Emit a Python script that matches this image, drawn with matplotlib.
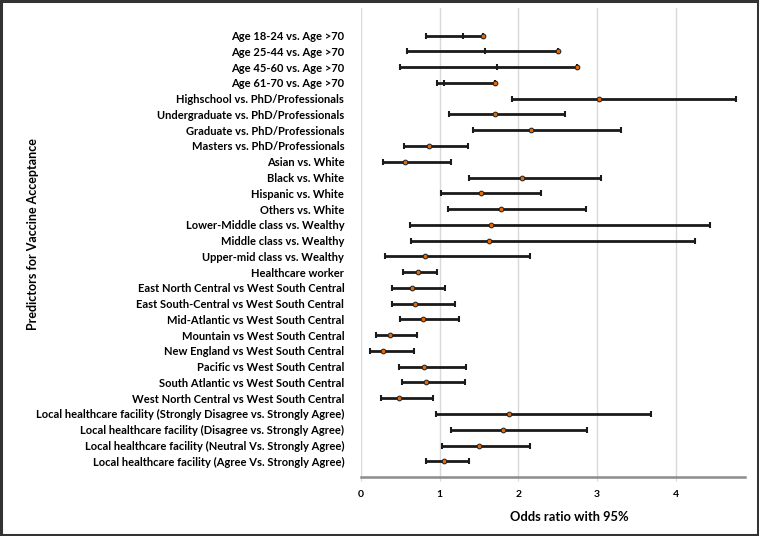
import matplotlib.pyplot as plt
from matplotlib.patches import Rectangle

labels = [
    "Age 18-24 vs. Age >70",
    "Age 25-44 vs. Age >70",
    "Age 45-60 vs. Age >70",
    "Age 61-70 vs. Age >70",
    "Highschool vs. PhD/Professionals",
    "Undergraduate vs. PhD/Professionals",
    "Graduate vs. PhD/Professionals",
    "Masters vs. PhD/Professionals",
    "Asian vs. White",
    "Black vs. White",
    "Hispanic vs. White",
    "Others vs. White",
    "Lower-Middle class vs. Wealthy",
    "Middle class vs. Wealthy",
    "Upper-mid class vs. Wealthy",
    "Healthcare worker",
    "East North Central vs West South Central",
    "East South-Central vs West South Central",
    "Mid-Atlantic vs West South Central",
    "Mountain vs West South Central",
    "New England vs West South Central",
    "Pacific vs West South Central",
    "South Atlantic vs West South Central",
    "West North Central vs West South Central",
    "Local healthcare facility (Strongly Disagree vs. Strongly Agree)",
    "Local healthcare facility (Disagree vs. Strongly Agree)",
    "Local healthcare facility (Neutral Vs. Strongly Agree)",
    "Local healthcare facility (Agree Vs. Strongly Agree)",
]
odds = [1.55, 2.50, 2.74, 1.70, 3.02, 1.70, 2.16, 0.86, 0.56, 2.05, 1.53, 1.78,
        1.65, 1.63, 0.81, 0.73, 0.65, 0.69, 0.79, 0.37, 0.28, 0.80, 0.83, 0.48,
        1.88, 1.81, 1.50, 1.06]
lower = [0.83, 0.59, 0.49, 0.97, 1.92, 1.12, 1.42, 0.55, 0.28, 1.37, 1.02, 1.10,
         0.62, 0.63, 0.30, 0.54, 0.39, 0.39, 0.50, 0.19, 0.11, 0.48, 0.52, 0.25,
         0.95, 1.14, 1.03, 0.82]
upper = [1.55, 2.50, 2.74, 1.70, 4.76, 2.59, 3.31, 1.36, 1.15, 3.05, 2.29, 2.86,
         4.44, 4.24, 2.15, 0.97, 1.07, 1.20, 1.25, 0.71, 0.68, 1.33, 1.32, 0.91,
         3.69, 2.87, 2.15, 1.37]
# the age rows carry an extra tick inside the bar
mid_ticks = [1.29, 1.58, 1.73, 1.06]

fig = plt.figure(figsize=(7.59, 5.36), dpi=100)
ax = fig.add_axes([0.4756, 0.110, 0.506, 0.875])

y = list(range(len(labels)))
xerr = [[o - l for o, l in zip(odds, lower)], [u - o for o, u in zip(odds, upper)]]
ax.errorbar(odds, y, xerr=xerr, fmt='none', ecolor='#1a1a1a', elinewidth=2,
            capsize=2.5, capthick=1.5, zorder=3)
ax.plot(mid_ticks, y[:4], linestyle='none', marker='|', markersize=5,
        markeredgewidth=1.5, color='#1a1a1a', zorder=4)
ax.plot(odds, y, linestyle='none', marker='o', markersize=3.4,
        markerfacecolor='#e36c09', markeredgecolor='#1a1a1a', markeredgewidth=0.7,
        zorder=5)

ax.set_xlim(0, 4.88)
ax.set_ylim(28.0, -1.75)
ax.set_xticks([0, 1, 2, 3, 4])
ax.set_xticklabels(['0', '1', '2', '3', '4'], fontsize=7.5, fontweight='bold',
                   family='Lato')
ax.set_yticks(y)
ax.set_yticklabels(labels, fontsize=8.0, fontweight='bold', family='Lato')
ax.tick_params(axis='y', length=0, pad=12)
ax.tick_params(axis='x', length=3, color='#d9d9d9', pad=6)
ax.grid(axis='x', color='#d9d9d9', linewidth=1)
ax.set_axisbelow(True)
for s in ['top', 'right', 'left']:
    ax.spines[s].set_visible(False)
ax.spines['bottom'].set_color('#8c8c8c')
ax.spines['bottom'].set_linewidth(1.8)

ax.set_xlabel('Odds ratio with 95%', fontsize=9.3, fontweight='bold',
              family='Lato')
ax.xaxis.set_label_coords(0.543, -0.072)
fig.text(0.044, 0.563, 'Predictors for Vaccine Acceptance', rotation=90,
         fontsize=9, fontweight='bold', family='Lato', ha='center', va='center')

fig.patches.append(Rectangle((0.0015, 0.002), 0.997, 0.996, transform=fig.transFigure,
                             fill=False, edgecolor='#333333', linewidth=2.2))

fig.savefig('out.png', dpi=100)
